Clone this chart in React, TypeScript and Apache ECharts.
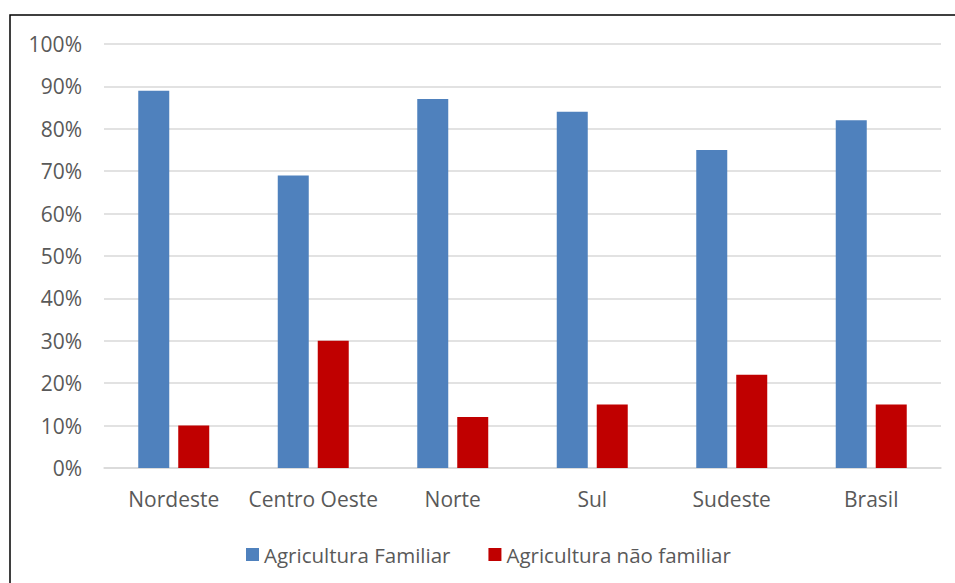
import React, { useEffect, useRef } from "react";
import * as echarts from "echarts";

const regions = ["Nordeste", "Centro Oeste", "Norte", "Sul", "Sudeste", "Brasil"];
const familiar = [89, 69, 87, 84, 75, 82];
const naoFamiliar = [10, 30, 12, 15, 22, 15];
const seriesNames = ["Agricultura Familiar", "Agricultura não familiar"];

const FONT = "'Open Sans', 'Noto Sans', sans-serif";
const TEXT_COLOR = "#595959";

export default function App() {
  const ref = useRef<HTMLDivElement>(null);

  useEffect(() => {
    if (!ref.current) return;
    const chart = echarts.init(ref.current, undefined, { renderer: "svg" });
    chart.setOption({
      animation: false,
      backgroundColor: "#ffffff",
      textStyle: { fontFamily: FONT },
      graphic: [
        {
          type: "rect",
          shape: { x: 10, y: 15, width: 1000, height: 700 },
          style: { fill: "none", stroke: "#000000", lineWidth: 1.5 },
          silent: true,
        },
      ],
      grid: { left: 104, right: 14, top: 44, bottom: 115, containLabel: false },
      legend: {
        data: seriesNames,
        top: 539,
        left: 241,
        itemWidth: 13,
        itemHeight: 13,
        itemGap: 38,
        icon: "rect",
        textStyle: { color: TEXT_COLOR, fontSize: 20.5, fontFamily: FONT },
      },
      xAxis: {
        type: "category",
        data: regions,
        axisTick: { show: false },
        axisLine: { lineStyle: { color: "#d9d9d9", width: 1.5 } },
        axisLabel: { color: TEXT_COLOR, fontSize: 21, fontFamily: FONT, margin: 20, interval: 0 },
      },
      yAxis: {
        type: "value",
        min: 0,
        max: 100,
        interval: 10,
        axisLine: { show: false },
        axisTick: { show: false },
        splitLine: { lineStyle: { color: "#d9d9d9", width: 1.5 } },
        axisLabel: {
          color: TEXT_COLOR,
          fontSize: 21,
          fontFamily: FONT,
          margin: 22,
          formatter: (v: number) => `${v}%`,
        },
      },
      series: [
        {
          name: seriesNames[0],
          type: "bar",
          data: familiar,
          barWidth: 31,
          barGap: "29%",
          itemStyle: { color: "#4f81bd" },
        },
        {
          name: seriesNames[1],
          type: "bar",
          data: naoFamiliar,
          barWidth: 31,
          itemStyle: { color: "#c00000" },
        },
      ],
    });
    return () => chart.dispose();
  }, []);

  return (
    <div
      ref={ref}
      style={{ position: "fixed", left: 0, top: 0, width: 955, height: 583 }}
    />
  );
}
